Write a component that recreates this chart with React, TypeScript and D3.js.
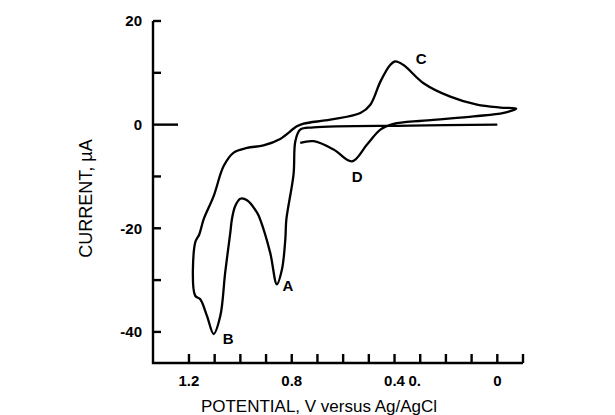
import React from "react";
import * as d3 from "d3";

// cyclic voltammogram (V vs Ag/AgCl, µA)
const potential = [
  0, 0.339, 0.715, 0.767, 0.786, 0.793, 0.821, 0.825, 0.838, 0.858,
  0.884, 0.923, 0.935, 0.974, 1.0, 1.02, 1.033, 1.039, 1.059, 1.078,
  1.104, 1.13, 1.156, 1.176, 1.176, 1.16, 1.143, 1.104, 1.065, 1.026,
  0.974, 0.91, 0.845, 0.78, 0.754, 0.65, 0.533, 0.494, 0.455, 0.417,
  0.397, 0.365, 0.287, 0.183, 0.079, -0.012, -0.074, -0.025, 0.092, 0.287,
  0.404, 0.455, 0.507, 0.566, 0.637, 0.715, 0.767,
];
const current = [
  0, -0.19, -0.52, -0.96, -3.2, -9.6, -18.3, -22.1, -27.9, -30.8,
  -24.7, -18.3, -17.0, -14.6, -14.3, -15.7, -18.3, -20.8, -28.5, -36.9,
  -40.4, -36.9, -33.7, -33.0, -22.8, -21.2, -18.3, -13.8, -8.0, -5.4,
  -4.5, -4.0, -2.75, -0.33, 0.19, 0.96, 2.25, 3.85, 8.3, 11.5,
  12.2, 11.5, 8.0, 5.4, 3.85, 3.3, 3.1, 2.25, 1.6, 0.77,
  0.13, -0.96, -3.85, -7.1, -4.8, -3.2, -3.5,
];

const xTicks = [1.2, 1.1, 1.0, 0.9, 0.8, 0.7, 0.6, 0.5, 0.4, 0.3, 0.2, 0.1, 0, -0.1];
const xTickLabels = ["1.2", "0.8", "0.4", "0"];
const xLabelValues = [1.2, 0.8, 0.4, 0];
const yTicks = [20, 10, 0, -10, -20, -30, -40];
const yLabelValues = [20, 0, -20, -40];

const peakLetters = ["A", "B", "C", "D"];
const peakV = [0.815, 1.047, 0.296, 0.545];
const peakI = [-32.1, -42.3, 11.7, -11.1];

const font = "'Liberation Sans', Arial, Helvetica, sans-serif";

export default function App() {
  const width = 615;
  const height = 415;

  const x = d3.scaleLinear().domain([1.34, -0.1]).range([153, 523]);
  const y = d3.scaleLinear().domain([20, -46]).range([21, 363]);

  const pts: [number, number][] = potential.map((v, i) => [v, current[i]]);
  const line = d3
    .line<[number, number]>()
    .x((d) => x(d[0]))
    .y((d) => y(d[1]))
    .curve(d3.curveCatmullRom.alpha(0.5));

  const x0 = x.range()[0];
  const yBottom = y.range()[1];

  return (
    <svg
      width={width}
      height={height}
      style={{ position: "absolute", left: 0, top: 0, background: "#fff" }}
    >
      {/* axes */}
      <g stroke="#000" strokeWidth={2.4} fill="none">
        <path d={`M${x0},${y(20)}V${yBottom}H${x.range()[1]}`} />
        {yTicks.map((t) => (
          <line key={t} x1={x0} x2={x0 + (t === 0 ? 25 : 8)} y1={y(t)} y2={y(t)} />
        ))}
        {xTicks.map((t) => (
          <line key={t} x1={x(t)} x2={x(t)} y1={yBottom} y2={yBottom - 9} />
        ))}
      </g>

      <g fontFamily={font} fontSize={15} fontWeight={600} fill="#000">
        {yLabelValues.map((t) => (
          <text key={t} x={x0 - 11} y={y(t)} dy="0.36em" textAnchor="end">
            {t}
          </text>
        ))}
        {xLabelValues.map((t, i) => (
          <text key={t} x={x(t)} y={yBottom + 23} textAnchor="middle">
            {xTickLabels[i]}
          </text>
        ))}
        {/* stray "0." printed next to 0.4 in the original */}
        <text x={x(0.4) + 14} y={yBottom + 23} textAnchor="start">
          0.
        </text>
        {peakLetters.map((p, i) => (
          <text key={p} x={x(peakV[i])} y={y(peakI[i])} textAnchor="middle">
            {p}
          </text>
        ))}
      </g>

      <text
        x={319}
        y={412}
        textAnchor="middle"
        fontFamily={font}
        fontSize={17}
        fill="#000"
      >
        POTENTIAL, V versus Ag/AgCl
      </text>
      <text
        transform={`translate(92,198.5) rotate(-90)`}
        textAnchor="middle"
        fontFamily={font}
        fontSize={18}
        fill="#000"
      >
        CURRENT, µA
      </text>

      <path d={line(pts) ?? ""} fill="none" stroke="#000" strokeWidth={2.3} strokeLinejoin="round" />
    </svg>
  );
}
